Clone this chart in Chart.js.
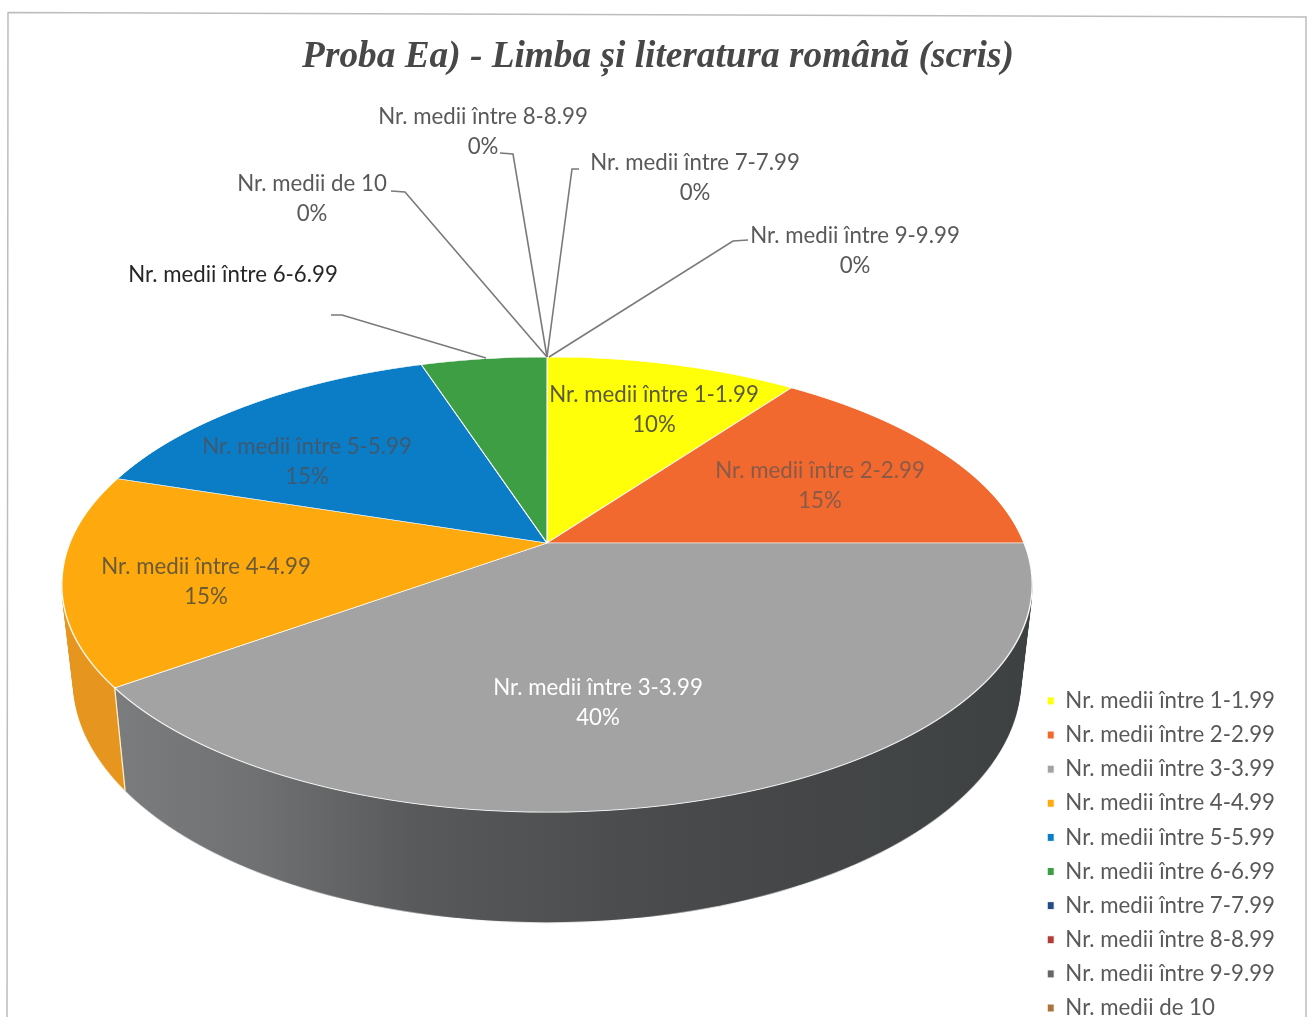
<!DOCTYPE html>
<html>
<head>
<meta charset="utf-8">
<style>html,body{margin:0;padding:0;background:#fff}canvas{display:block}</style>
<script src="https://cdn.jsdelivr.net/npm/chart.js@4/dist/chart.umd.min.js"></script>
</head>
<body>
<canvas id="c" width="1309" height="1017"></canvas>
<script>
const titleText = "Proba Ea) - Limba și literatura română (scris)";
const categories = ["Nr. medii între 1-1.99","Nr. medii între 2-2.99","Nr. medii între 3-3.99","Nr. medii între 4-4.99","Nr. medii între 5-5.99","Nr. medii între 6-6.99","Nr. medii între 7-7.99","Nr. medii între 8-8.99","Nr. medii între 9-9.99","Nr. medii de 10"];
const values = [10,15,40,15,15,5,0,0,0,0];
const colors = ["#FFFF0A","#F1692F","#A3A3A3","#FEAA0F","#0A7DC6","#3E9E43","#264A84","#B03C36","#666666","#A8763A"];
const FONT = 'Lato, "Open Sans", sans-serif';

// [category index, centre x, first line y, show percent, text colour]
const labelSpots = [
  [0,654,395,true,"#5a5a3a"],[1,820,471,true,"#8a5a48"],[2,598,688,true,"#ffffff"],
  [3,206,567,true,"#6a5a35"],[4,307,447,true,"#3f5a70"],[5,233,275,false,"#262626"],
  [6,695,163,true,"#595959"],[7,483,117,true,"#595959"],[8,855,236,true,"#595959"],[9,312,184,true,"#595959"]
];
const leaders = [
  [[500,153],[513,154],[547,357]],
  [[579,169],[572,169],[547,357]],
  [[391,191],[405,192],[547,357]],
  [[748,240],[733,241],[549,357]],
  [[331,315],[342,315],[486,358]]
];
// perspective of the disc
const P = {cx:547, y0:543, A:477, B:220, k:0.1826, top:357, bottom:813};
// lower rim relative to upper rim
const W = {sx:0.024, sy:0.06, dy:94, steps:140};

function plainOpts(bg, border, bw){
  return {backgroundColor:bg,borderColor:border,borderWidth:bw,borderAlign:'center',borderJoinStyle:'round',
    borderRadius:0,spacing:0,offset:0,circular:true,borderDash:[],borderDashOffset:0,hoverOffset:0};
}
function warpDraw(ctx, arcs, painter){
  const c = arcs[0], R = c.outerRadius;
  for(let row=P.top-2; row<P.bottom+2; row++){
    const d = row+0.5-P.y0, v = d/(P.B+P.k*d), w = 1-P.k*v;
    if(Math.abs(v)>1.02) continue;
    const sx = P.A/(R*w), sy = (P.B/(w*w))/R;
    const tx = P.cx - sx*c.x, ty = (row+0.5) - sy*(c.y+R*v);
    ctx.save();
    ctx.beginPath(); ctx.rect(0,row,ctx.canvas.width,1); ctx.clip();
    ctx.setTransform(sx,0,0,sy,tx,ty);
    painter(ctx);
    ctx.restore();
  }
}
function project(el, ang){
  const u=Math.cos(ang), v=Math.sin(ang), w=1-P.k*v;
  return [P.cx+P.A*u/w, P.y0+P.B*v/w];
}
function lowerPt(p){
  return [P.cx+(p[0]-P.cx)*(1-W.sx), P.y0+(p[1]-P.y0)*(1+W.sy)+W.dy];
}
function wallLayer(chart, arcs, idxs, paint){
  const cw=chart.width, ch=chart.height;
  const a=document.createElement('canvas'); a.width=cw; a.height=ch;
  const actx=a.getContext('2d');
  warpDraw(actx, arcs, g=>{
    idxs.forEach(i=>{
      const el=arcs[i], keep=el.options;
      el.options=plainOpts('#000','#000',0); el.draw(g); el.options=keep;
    });
  });
  const b=document.createElement('canvas'); b.width=cw; b.height=ch;
  const bctx=b.getContext('2d');
  for(let s=W.steps;s>=0;s--){
    const t=s/W.steps, scx=1-W.sx*t, scy=1+W.sy*t;
    bctx.setTransform(scx,0,0,scy,P.cx*(1-scx),P.y0*(1-scy)+W.dy*t);
    bctx.drawImage(a,0,0);
  }
  bctx.setTransform(1,0,0,1,0,0);
  bctx.globalCompositeOperation='source-atop';
  bctx.fillStyle=paint(bctx); bctx.fillRect(0,0,cw,ch);
  return b;
}
const pie3d = {
  id:'pie3d',
  beforeDraw(chart){
    const c=chart.ctx;
    c.save(); c.fillStyle='#fff'; c.fillRect(0,0,chart.width,chart.height);
    c.strokeStyle='#bdbdbd'; c.lineWidth=1.5;
    c.beginPath(); c.moveTo(7,1017); c.lineTo(8,12.5); c.lineTo(1306,17); c.lineTo(1306,1017); c.stroke();
    c.restore();
  },
  beforeDatasetsDraw(chart){
    const c=chart.ctx, arcs=chart.getDatasetMeta(0).data;
    const amber=wallLayer(chart,arcs,[3],g=>'#E6951F');
    const gray=wallLayer(chart,arcs,[2],g=>{
      const gr=g.createLinearGradient(115,0,1030,0);
      gr.addColorStop(0,'#7b7c7d'); gr.addColorStop(0.15,'#707172');
      gr.addColorStop(0.33,'#58595a'); gr.addColorStop(0.6,'#484a4b'); gr.addColorStop(1,'#3e4142');
      return gr;
    });
    c.drawImage(amber,0,0); c.drawImage(gray,0,0);
    // seam between the two visible side walls
    const p=project(arcs[2],arcs[2].endAngle), q=lowerPt(p);
    c.save(); c.strokeStyle='#fff4d8'; c.lineWidth=1.2;
    c.beginPath(); c.moveTo(p[0],p[1]); c.lineTo(q[0],q[1]); c.stroke(); c.restore();
    // top surface
    warpDraw(c, arcs, g=>{
      arcs.forEach((el,i)=>{
        if(values[i]===0) return;
        const keep=el.options;
        el.options=plainOpts(colors[i],'#ffffff',1.2); el.draw(g); el.options=keep;
      });
    });
    return false;
  },
  afterDraw(chart){
    const c=chart.ctx, total=values.reduce((s,x)=>s+x,0);
    c.save();
    c.strokeStyle='#7a7a7a'; c.lineWidth=1.6;
    leaders.forEach(l=>{ c.beginPath(); l.forEach((p,i)=> i?c.lineTo(p[0],p[1]):c.moveTo(p[0],p[1])); c.stroke(); });
    c.font='22.25px '+FONT; c.textAlign='center'; c.textBaseline='middle';
    labelSpots.forEach(([i,x,y,pct,col])=>{
      c.fillStyle=col;
      c.fillText(categories[i],x,y);
      if(pct) c.fillText(Math.round(values[i]/total*100)+'%',x,y+30);
    });
    c.restore();
  }
};
new Chart(document.getElementById('c'),{
  type:'pie',
  data:{labels:categories,datasets:[{data:values,backgroundColor:colors,borderColor:'#fff',borderWidth:1}]},
  plugins:[pie3d],
  options:{
    responsive:false, animation:false,
    layout:{padding:{left:31,right:24,top:0,bottom:-14}},
    plugins:{
      tooltip:{enabled:false},
      title:{display:true,text:titleText,color:'#484848',font:{family:'"Liberation Serif",serif',size:37.3,weight:'bold',style:'italic'},padding:{top:35,bottom:10}},
      legend:{position:'right',align:'end',labels:{boxWidth:7,boxHeight:8,padding:11.875,color:'#595959',font:{family:FONT,size:22.25}}}
    }
  }
});
</script>
</body>
</html>
